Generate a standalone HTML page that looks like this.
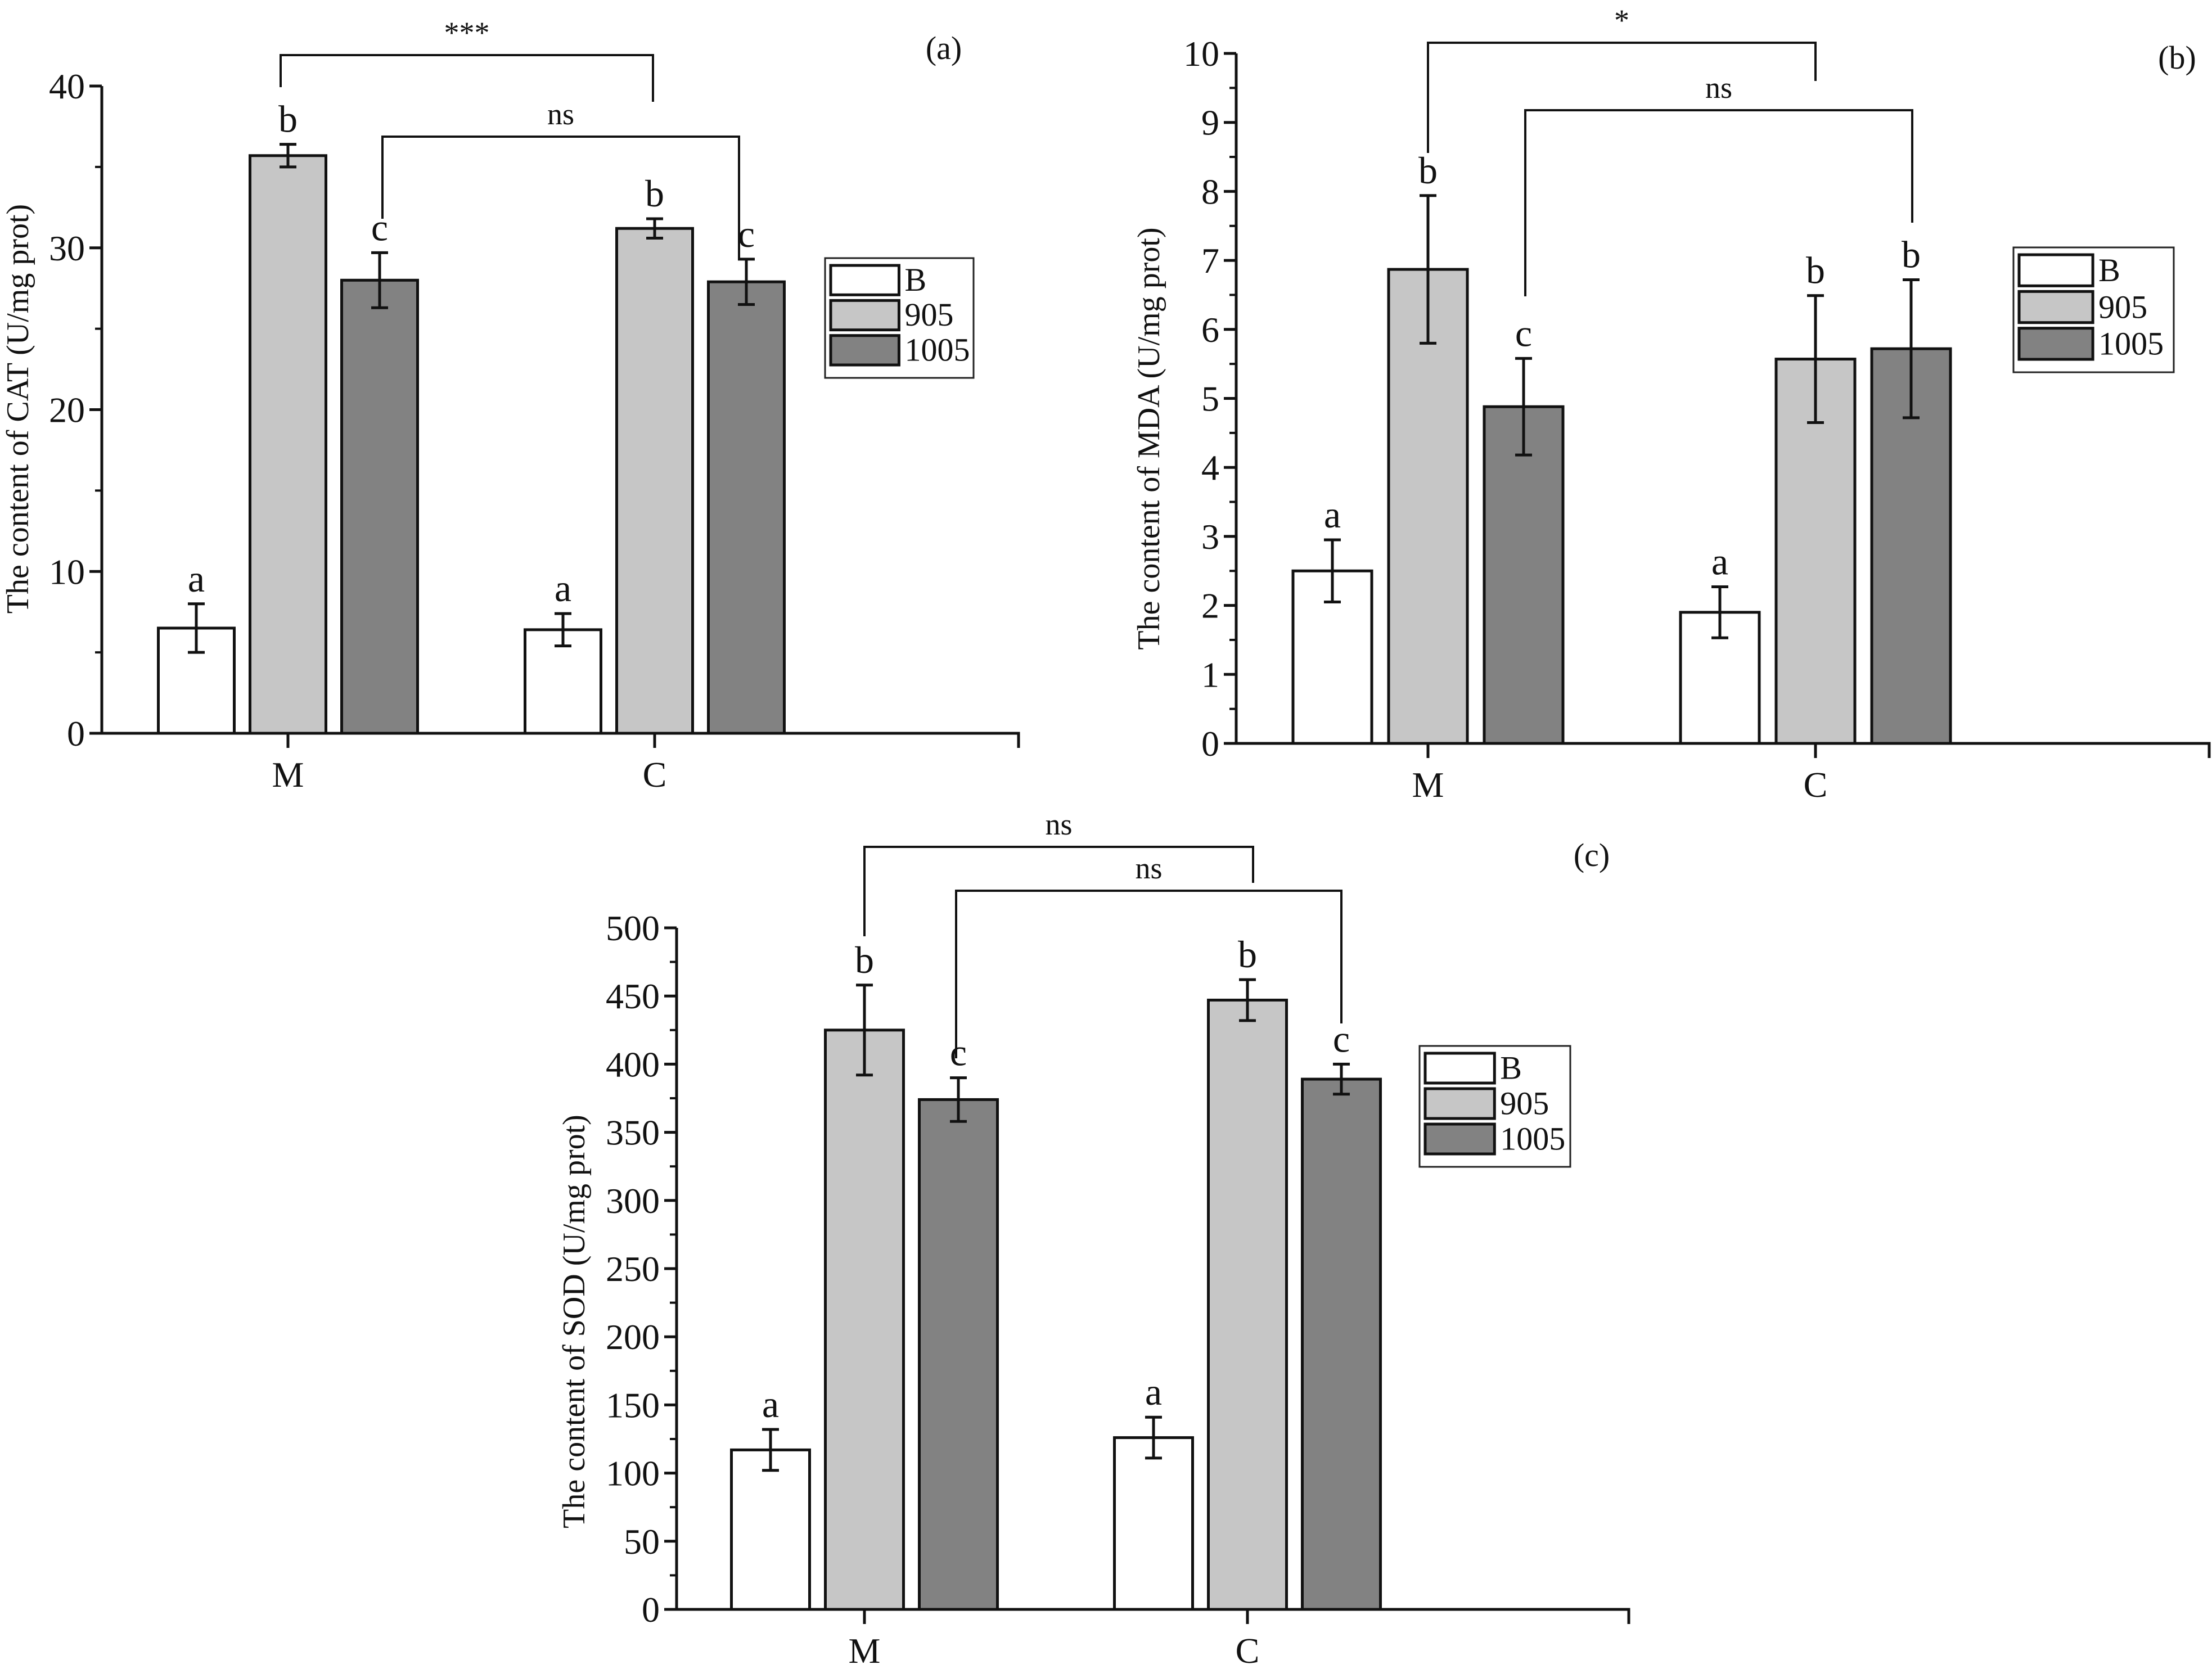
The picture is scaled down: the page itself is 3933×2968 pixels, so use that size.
<!DOCTYPE html>
<html><head><meta charset="utf-8"><style>
html,body{margin:0;padding:0;background:#fff}
svg{display:block}
text{font-family:"Liberation Serif",serif;fill:#111}
</style></head><body>
<svg id="fig" width="3933" height="2968" viewBox="0 0 3933 2968" xmlns="http://www.w3.org/2000/svg"></svg>
<script>
// ---- data ----
const groups = ["M","C"];
const seriesNames = ["B","905","1005"];
const seriesFill = ["#ffffff","#c6c6c6","#828282"];
// panel a: CAT
const catValues = [[6.5,35.7,28.0],[6.4,31.2,27.9]];
const catErrors = [[1.5,0.7,1.7],[1.0,0.6,1.4]];
const catLetters = [["a","b","c"],["a","b","c"]];
const catTicks = [0,10,20,30,40];
// panel b: MDA
const mdaValues = [[2.5,6.87,4.88],[1.9,5.57,5.72]];
const mdaErrors = [[0.45,1.07,0.7],[0.37,0.92,1.0]];
const mdaLetters = [["a","b","c"],["a","b","b"]];
const mdaTicks = [0,1,2,3,4,5,6,7,8,9,10];
// panel c: SOD
const sodValues = [[117,425,374],[126,447,389]];
const sodErrors = [[15,33,16],[15,15,11]];
const sodLetters = [["a","b","c"],["a","b","c"]];
const sodTicks = [0,50,100,150,200,250,300,350,400,450,500];

const NS="http://www.w3.org/2000/svg";
const svg=document.getElementById('fig');
function mk(tag,attrs,parent,txt){const e=document.createElementNS(NS,tag);for(const k in attrs)e.setAttribute(k,attrs[k]);if(txt!==undefined)e.textContent=txt;(parent||svg).appendChild(e);return e;}

function panel(cfg,values,errors,letters,ticks){
  const g=mk('g',{});
  
  
  const ymax=ticks[ticks.length-1];
  const Y=v=>cfg.y0-(v/ymax)*(cfg.y0-cfg.yTop);
  groups.forEach((grp,gi)=>{
    const cx=cfg.groupX[gi];
    seriesNames.forEach((s,si)=>{
      const bx=cx+(si-1)*cfg.spacing-cfg.bw/2;
      const v=values[gi][si], e=errors[gi][si];
      const r=mk('rect',{x:bx,y:Y(v),width:cfg.bw,height:cfg.y0-Y(v),fill:seriesFill[si],stroke:'#111','stroke-width':5},g);
      
      
      const mx=bx+cfg.bw/2;
      const eb=mk('path',{d:`M${mx},${Y(v+e)}V${Y(v-e)}M${mx-15},${Y(v+e)}h30M${mx-15},${Y(v-e)}h30`,stroke:'#111','stroke-width':5,fill:'none'},g);
      
      
      const t=mk('text',{x:mx,y:Y(v+e)-22,'font-size':68,'text-anchor':'middle'},g,letters[gi][si]);
      
      
    });
    mk('line',{x1:cx,x2:cx,y1:cfg.y0,y2:cfg.y0+26,stroke:'#111','stroke-width':5},g);
    const xl=mk('text',{x:cx,y:cfg.y0+95,'font-size':64,'text-anchor':'middle'},g,grp);
    
    
  });
  const ax=mk('path',{d:`M${cfg.ax},${cfg.yTop}V${cfg.y0}H${cfg.xEnd}v26`,stroke:'#111','stroke-width':5,fill:'none'},g);
  
  
  for(let i=0;i<ticks.length;i++){
    const y=Y(ticks[i]);
    mk('line',{x1:cfg.ax-22,x2:cfg.ax,y1:y,y2:y,stroke:'#111','stroke-width':5},g);
    const tl=mk('text',{x:cfg.ax-30,y:y+22,'font-size':64,'text-anchor':'end'},g,ticks[i]);
    
    
    if(i<ticks.length-1){const ym=Y((ticks[i]+ticks[i+1])/2);mk('line',{x1:cfg.ax-12,x2:cfg.ax,y1:ym,y2:ym,stroke:'#111','stroke-width':4},g);}
  }
  const yt=mk('text',{x:0,y:0,'font-size':56,'text-anchor':'middle',transform:`translate(${cfg.ylx},${cfg.yly}) rotate(-90)`},g,cfg.ylabel);
  
  
  const pl=mk('text',{x:cfg.plx,y:cfg.ply,'font-size':58,'text-anchor':'middle'},g,cfg.plabel);
  
  
  cfg.brackets.forEach(b=>{
    const p=mk('path',{d:`M${b[0]},${b[3]}V${b[2]}H${b[1]}V${b[4]}`,stroke:'#111','stroke-width':4,fill:'none'},g);
    
    
    const t=mk('text',{x:(b[0]+b[1])/2,y:b[2]-22,'font-size':54,'text-anchor':'middle'},g,b[5]);
    
    
  });
  const L=cfg.legend;
  const lg=mk('g',{},g);
  
  
  mk('rect',{x:L[0],y:L[1],width:L[2],height:L[3],fill:'#fff',stroke:'#222','stroke-width':3},lg);
  const rh=(L[3]-26)/3;
  seriesNames.forEach((s,si)=>{
    const sw=mk('rect',{x:L[0]+10,y:L[1]+13+si*rh,width:L[2]*0.46,height:rh-10,fill:seriesFill[si],stroke:'#111','stroke-width':5},lg);
    
    
    const t=mk('text',{x:L[0]+L[2]*0.46+20,y:L[1]+13+si*rh+rh*0.72,'font-size':58},lg,s);
    
    
  });
}

panel({name:'panel-a-cat',ax:181,yTop:153,y0:1304,xEnd:1811,groupX:[512,1164],spacing:163,bw:135,
  ylabel:'The content of CAT (U/mg prot)',ylx:50,yly:727,plabel:'(a)',plx:1678,ply:105,
  brackets:[[499,1161,98,155,181,'***'],[680,1314,243,389,461,'ns']],legend:[1467,459,264,213]},
  catValues,catErrors,catLetters,catTicks);
panel({name:'panel-b-mda',ax:2198,yTop:95,y0:1322,xEnd:3928,groupX:[2539,3228],spacing:170,bw:140,
  ylabel:'The content of MDA (U/mg prot)',ylx:2061,yly:780,plabel:'(b)',plx:3871,ply:122,
  brackets:[[2539,3228,76,272,144,'*'],[2712,3400,196,527,396,'ns']],legend:[3580,440,285,222]},
  mdaValues,mdaErrors,mdaLetters,mdaTicks);
panel({name:'panel-c-sod',ax:1203,yTop:1650,y0:2862,xEnd:2896,groupX:[1537,2218],spacing:167,bw:139,
  ylabel:'The content of SOD (U/mg prot)',ylx:1039,yly:2350,plabel:'(c)',plx:2830,ply:1540,
  brackets:[[1537,2228,1506,1665,1570,'ns'],[1700,2385,1584,1882,1820,'ns']],legend:[2524,1860,268,215]},
  sodValues,sodErrors,sodLetters,sodTicks);
</script>
</body></html>
